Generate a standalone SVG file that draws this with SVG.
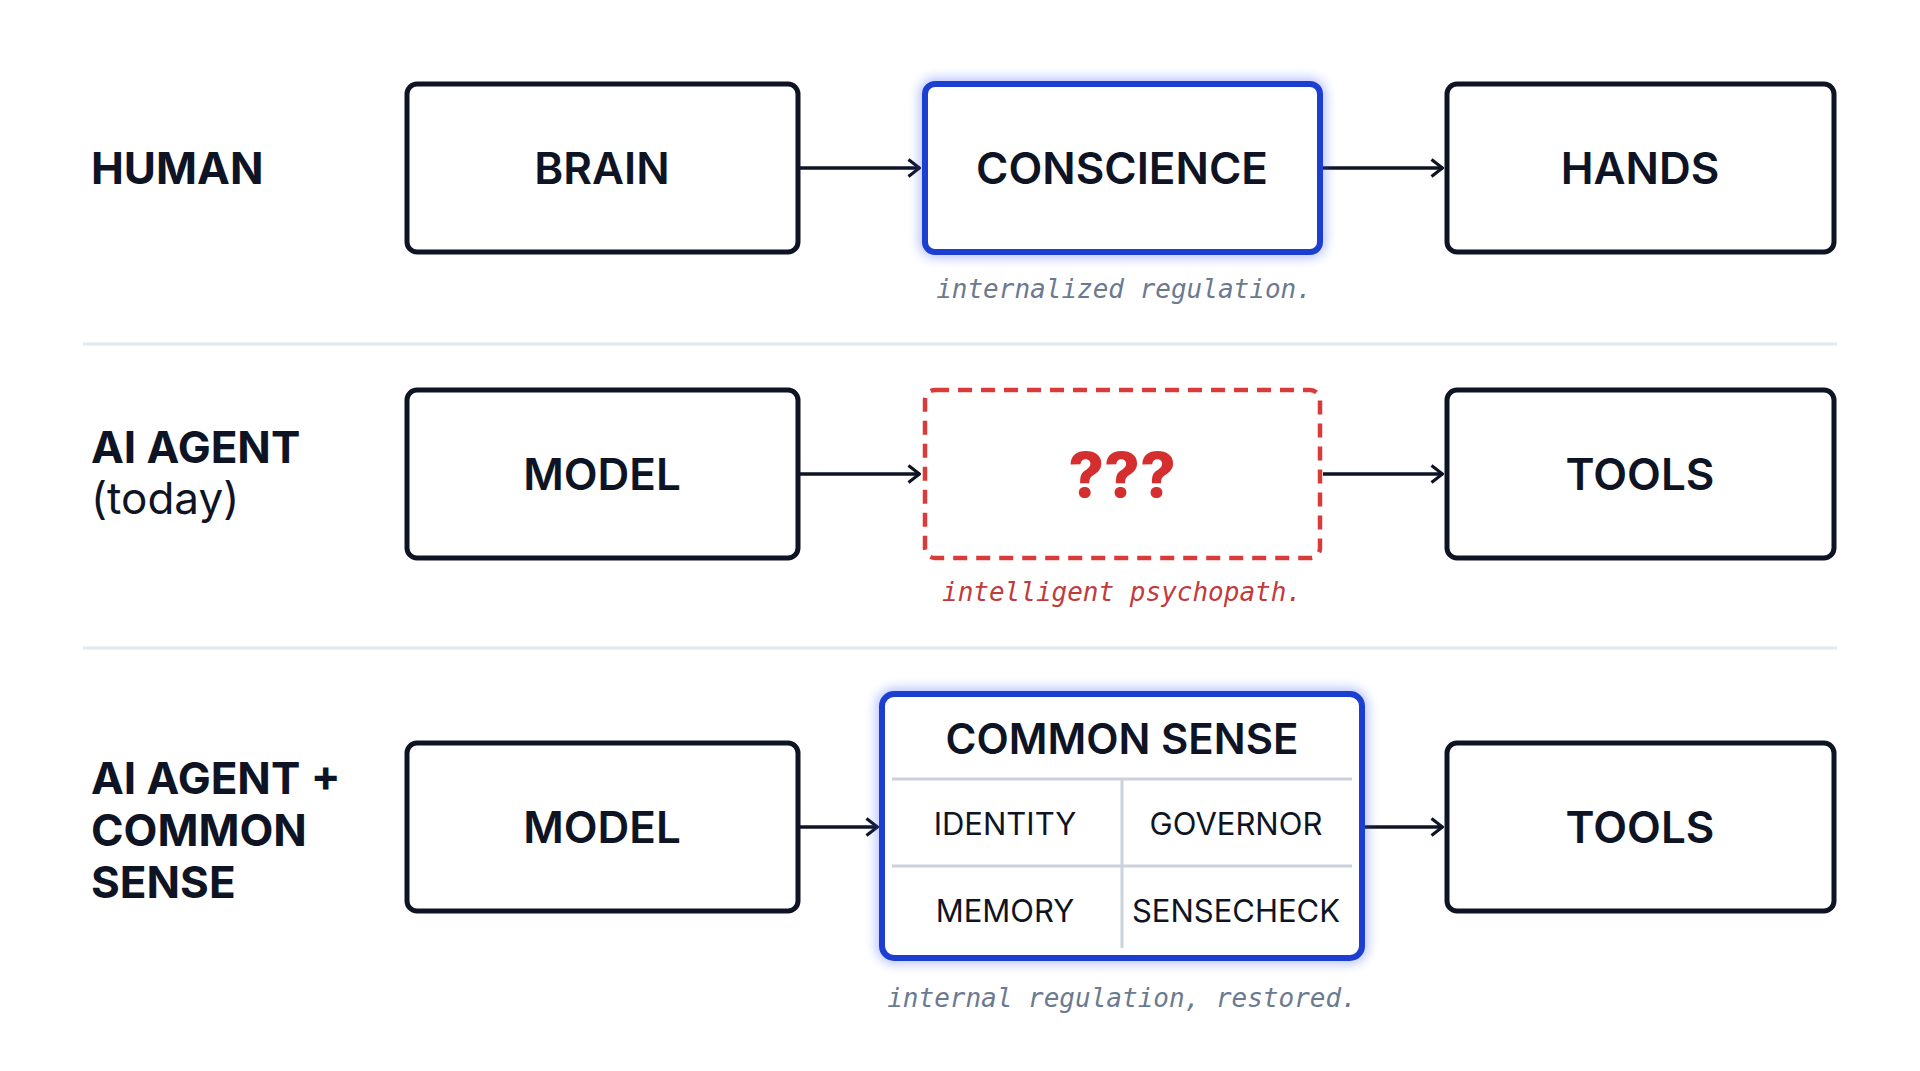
<svg xmlns="http://www.w3.org/2000/svg" width="1920" height="1071" viewBox="0 0 1920 1071">
<style>
.box{fill:#fff;stroke:#0f1424;stroke-width:5}
.blue{fill:#fff;stroke:#1d3fd1;stroke-width:6}
.t{font-family:Inter,"Liberation Sans",sans-serif;font-weight:600;font-size:44px;fill:#0f1424;text-anchor:middle;dominant-baseline:central}
.lab{font-family:Inter,"Liberation Sans",sans-serif;font-weight:700;font-size:44px;fill:#0f1424}
.cell{font-family:Inter,"Liberation Sans",sans-serif;font-weight:400;font-size:31px;fill:#0f1424;text-anchor:middle;dominant-baseline:central}
.cap{font-family:"DejaVu Sans Mono","Liberation Mono",monospace;font-style:italic;font-size:26px;text-anchor:middle;fill:#6b7a90}
.arr{stroke:#0f1424;stroke-width:3.5;fill:none;marker-end:url(#ah)}
.sep{stroke:#e2e8f0;stroke-width:3}
</style>
<defs>
<marker id="ah" viewBox="0 0 14 20" refX="13" refY="10" markerWidth="14" markerHeight="20" markerUnits="userSpaceOnUse" orient="auto"><path d="M1.5 1.5 L12.5 10 L1.5 18.5" fill="none" stroke="#0f1424" stroke-width="3.2"/></marker>
<filter id="glow" x="-10%" y="-10%" width="120%" height="120%"><feGaussianBlur stdDeviation="6"/></filter>
</defs>
<rect width="1920" height="1071" fill="#fff"/>
<line class="sep" x1="83" y1="344" x2="1837" y2="344"/>
<line class="sep" x1="83" y1="648" x2="1837" y2="648"/>
<g id="labels">
<text class="lab" x="91" y="184">HUMAN</text>
<text class="lab" x="91" y="463">AI AGENT</text>
<text class="lab" x="91" y="514" style="font-weight:400">(today)</text>
<text class="lab" x="91" y="794">AI AGENT +</text>
<text class="lab" x="91" y="846">COMMON</text>
<text class="lab" x="91" y="898">SENSE</text>
</g>
<g id="connectors">
<line class="arr" x1="800" y1="168" x2="920" y2="168"/>
<line class="arr" x1="1323" y1="168" x2="1443" y2="168"/>
<line class="arr" x1="800" y1="474" x2="920" y2="474"/>
<line class="arr" x1="1323" y1="474" x2="1443" y2="474"/>
<line class="arr" x1="800" y1="827" x2="878" y2="827"/>
<line class="arr" x1="1364" y1="827" x2="1443" y2="827"/>
</g>
<g id="brain"><rect class="box" x="407" y="84" width="391" height="168" rx="10"/><text class="t" x="602" y="168">BRAIN</text></g>
<g id="conscience"><rect x="925" y="84" width="395" height="168" rx="10" fill="none" stroke="#3a5cff" stroke-width="10" opacity="0.45" filter="url(#glow)"/><rect class="blue" x="925" y="84" width="395" height="168" rx="10"/><text class="t" x="1122" y="168">CONSCIENCE</text></g>
<text class="cap" x="1124" y="298">internalized regulation.</text>
<g id="hands"><rect class="box" x="1447" y="84" width="387" height="168" rx="10"/><text class="t" x="1640" y="168">HANDS</text></g>
<g id="model1"><rect class="box" x="407" y="390" width="391" height="168" rx="10"/><text class="t" x="602" y="474">MODEL</text></g>
<g id="unknown"><rect x="925" y="390" width="395" height="168" rx="10" fill="#fff" stroke="#d93a3a" stroke-width="4.5" stroke-dasharray="14 9"/><text class="t" x="1122" y="474" style="fill:#d42e2e;font-weight:800;font-size:62px">???</text></g>
<text class="cap" x="1122" y="601" style="fill:#c23b3b">intelligent psychopath.</text>
<g id="tools1"><rect class="box" x="1447" y="390" width="387" height="168" rx="10"/><text class="t" x="1640" y="474">TOOLS</text></g>
<g id="model2"><rect class="box" x="407" y="743" width="391" height="168" rx="10"/><text class="t" x="602" y="827">MODEL</text></g>
<g id="commonsense">
<rect x="882" y="694" width="480" height="264" rx="12" fill="none" stroke="#3a5cff" stroke-width="10" opacity="0.45" filter="url(#glow)"/>
<rect class="blue" x="882" y="694" width="480" height="264" rx="12"/>
<text class="t" x="1122" y="738" style="font-size:42px">COMMON SENSE</text>
<line x1="892" y1="779" x2="1352" y2="779" stroke="#cbd2dc" stroke-width="3"/>
<line x1="892" y1="866" x2="1352" y2="866" stroke="#cbd2dc" stroke-width="3"/>
<line x1="1122" y1="779" x2="1122" y2="948" stroke="#cbd2dc" stroke-width="3"/>
<text class="cell" x="1005" y="823">IDENTITY</text>
<text class="cell" x="1236" y="823">GOVERNOR</text>
<text class="cell" x="1005" y="910">MEMORY</text>
<text class="cell" x="1236" y="910">SENSECHECK</text>
</g>
<text class="cap" x="1122" y="1007">internal regulation, restored.</text>
<g id="tools2"><rect class="box" x="1447" y="743" width="387" height="168" rx="10"/><text class="t" x="1640" y="827">TOOLS</text></g>
</svg>
